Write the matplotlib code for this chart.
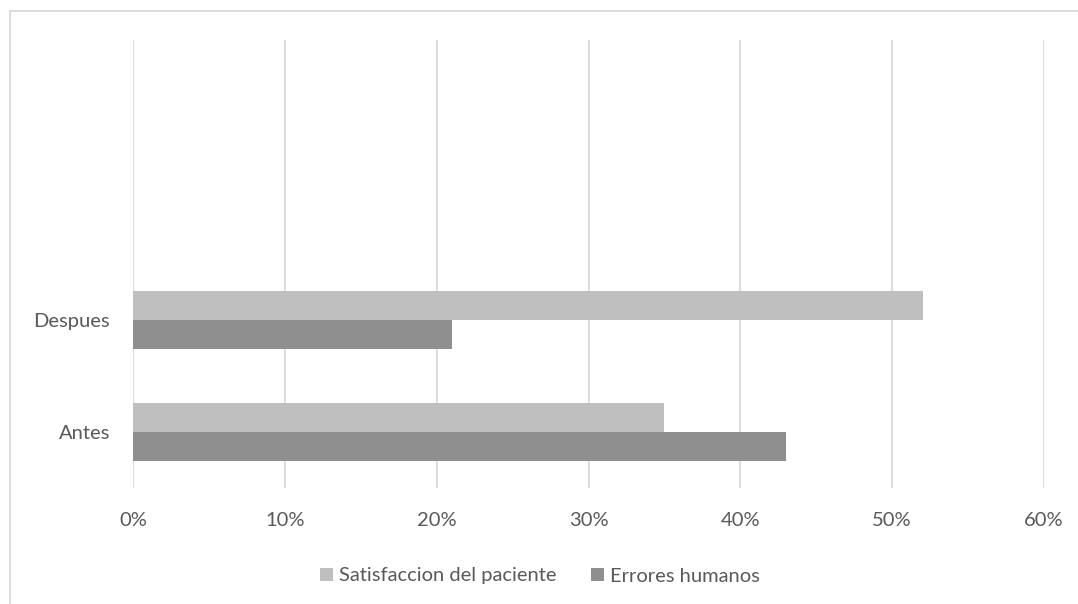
import matplotlib
matplotlib.use("Agg")
import matplotlib.pyplot as plt
from matplotlib.patches import Patch
from matplotlib.lines import Line2D
from matplotlib.ticker import PercentFormatter

categories = ["Antes", "Despues"]
series_names = ["Satisfaccion del paciente", "Errores humanos"]
satisfaccion = [35, 52]
errores = [43, 21]
x_ticks = [0, 10, 20, 30, 40, 50, 60]

light = "#BFBFBF"
dark = "#8F8F8F"
grid_c = "#D9D9D9"
text_c = "#595959"

plt.rcParams["font.family"] = ["Lato", "DejaVu Sans"]

W, H = 1078, 604
fig = plt.figure(figsize=(W / 100, H / 100), dpi=100)
fig.patch.set_facecolor("white")

left, right, top, bottom = 133, 1044, 40, 488
ax = fig.add_axes([left / W, 1 - bottom / H, (right - left) / W, (bottom - top) / H])

h = 0.26
ypos = list(range(len(categories)))
ax.barh([y + h / 2 for y in ypos], satisfaccion, height=h, color=light, zorder=3)
ax.barh([y - h / 2 for y in ypos], errores, height=h, color=dark, zorder=3)

ax.set_xlim(0, 60)
ax.set_ylim(-0.5, 3.5)
ax.set_xticks(x_ticks)
ax.xaxis.set_major_formatter(PercentFormatter(decimals=0))
ax.set_yticks(ypos)
ax.set_yticklabels(categories)
fs = 14.5
ax.tick_params(axis="both", length=0, labelsize=fs, labelcolor=text_c)
ax.tick_params(axis="y", pad=16.5)
ax.tick_params(axis="x", pad=17)
ax.grid(axis="x", color=grid_c, linewidth=1.3, zorder=0)
for s in ax.spines.values():
    s.set_visible(False)

# chart-area border (left and top edges)
fig.add_artist(Line2D([10 / W, 10 / W], [0, 1 - 11 / H], color=grid_c, linewidth=1.3, transform=fig.transFigure))
fig.add_artist(Line2D([10 / W, 1], [1 - 11 / H, 1 - 11 / H], color=grid_c, linewidth=1.3, transform=fig.transFigure))

handles = [Patch(facecolor=light, edgecolor="none"), Patch(facecolor=dark, edgecolor="none")]
leg = fig.legend(handles, series_names, loc="center", bbox_to_anchor=(540 / W, 1 - 576 / H),
                 ncol=2, frameon=False, fontsize=fs, handlelength=0.63, handleheight=0.63,
                 handletextpad=0.3, columnspacing=1.7, labelcolor=text_c)

fig.savefig("out.png", dpi=100, facecolor="white")
